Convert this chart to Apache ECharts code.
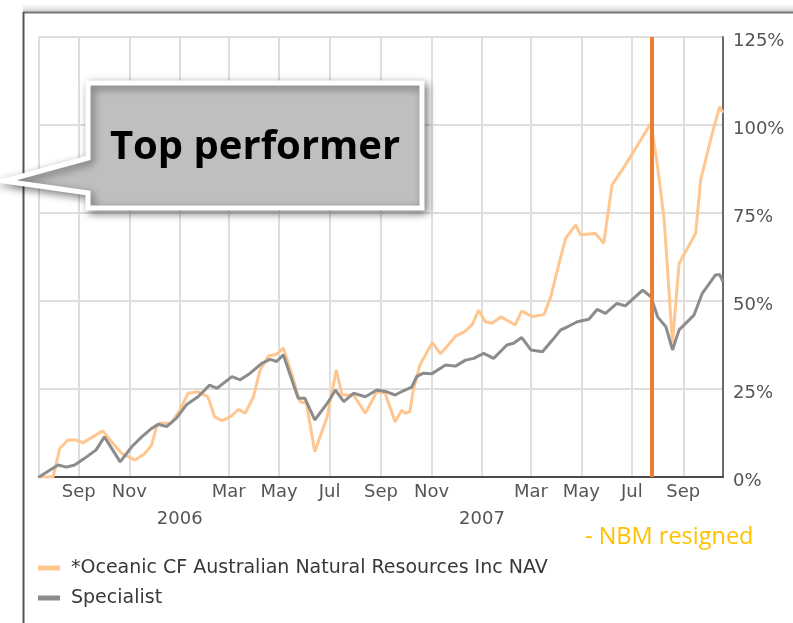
<!DOCTYPE html>
<html><head><meta charset="utf-8">
<script src="https://cdn.jsdelivr.net/npm/echarts@6/dist/echarts.min.js"></script>
<style>html,body{margin:0;padding:0;background:#fff}#c{width:793px;height:623px}</style>
</head><body><div id="c"></div>
<script>
// ---- data ----
const seriesNames = ['*Oceanic CF Australian Natural Resources Inc NAV', 'Specialist'];

const nanDates = ['2005-07-15','2005-08-01','2005-08-09','2005-08-19','2005-08-29','2005-09-06','2005-09-18','2005-09-30','2005-10-12','2005-10-23','2005-11-08','2005-11-20','2005-11-28','2005-12-04','2005-12-08','2005-12-22','2006-01-01','2006-01-11','2006-01-23','2006-02-04','2006-02-12','2006-02-21','2006-03-03','2006-03-13','2006-03-21','2006-03-31','2006-04-08','2006-04-18','2006-04-28','2006-05-06','2006-05-16','2006-05-26','2006-06-03','2006-06-13','2006-06-28','2006-07-09','2006-07-16','2006-07-30','2006-08-13','2006-08-27','2006-09-06','2006-09-18','2006-09-26','2006-09-30','2006-10-06','2006-10-10','2006-10-18','2006-11-02','2006-11-12','2006-11-30','2006-12-11','2006-12-20','2006-12-28','2007-01-05','2007-01-13','2007-01-24','2007-02-10','2007-02-18','2007-03-03','2007-03-17','2007-03-25','2007-04-04','2007-04-12','2007-04-24','2007-04-30','2007-05-18','2007-05-28','2007-06-07','2007-06-23','2007-07-24','2007-08-01','2007-08-09','2007-08-19','2007-08-27','2007-09-16','2007-09-22','2007-10-06','2007-10-15','2007-10-19'];
const nanValues = [0,0,8.1,10.5,10.5,9.7,11.4,13.1,9.6,6.7,4.8,6.7,9.1,14.3,15.3,15.3,19.0,23.8,24.2,22.8,17.1,16.0,17.1,19.2,18.1,22.8,30.4,34.4,34.9,36.6,29.5,21.4,20.9,7.2,17.1,30.4,23.3,23.3,18.1,24.2,23.8,15.7,19.0,18.1,18.6,24.7,31.8,38.2,35.0,40.0,41.3,43.2,47.4,44.1,43.7,45.5,43.2,47.2,45.5,46.2,51.2,60.7,67.8,71.6,68.8,69.2,66.4,83.0,88.6,100.5,88.2,73.0,38.0,60.7,69.2,84.4,97.6,105.2,103.5];

const specDates = ['2005-07-15','2005-08-07','2005-08-17','2005-08-27','2005-09-08','2005-09-22','2005-10-02','2005-10-21','2005-11-04','2005-11-16','2005-11-28','2005-12-06','2005-12-16','2005-12-28','2006-01-09','2006-01-23','2006-02-06','2006-02-15','2006-03-05','2006-03-15','2006-03-27','2006-04-10','2006-04-20','2006-04-28','2006-05-06','2006-05-24','2006-06-01','2006-06-13','2006-06-28','2006-07-08','2006-07-18','2006-07-30','2006-08-13','2006-08-27','2006-09-08','2006-09-18','2006-09-28','2006-10-08','2006-10-14','2006-10-22','2006-11-01','2006-11-18','2006-11-30','2006-12-12','2006-12-22','2007-01-03','2007-01-15','2007-01-23','2007-01-31','2007-02-08','2007-02-18','2007-03-01','2007-03-15','2007-03-27','2007-04-06','2007-04-12','2007-04-26','2007-05-10','2007-05-20','2007-05-30','2007-06-13','2007-06-23','2007-07-14','2007-07-24','2007-08-01','2007-08-11','2007-08-19','2007-08-27','2007-09-14','2007-09-24','2007-10-10','2007-10-15','2007-10-19'];
const specValues = [0,3.4,2.8,3.4,5.3,7.7,11.4,4.3,8.6,11.4,13.8,15.0,14.3,16.7,20.5,22.8,26.1,25.2,28.5,27.6,29.5,32.3,33.4,32.8,34.7,22.4,22.4,16.2,20.9,24.7,21.4,23.8,22.8,24.7,24.2,23.3,24.5,25.5,28.5,29.5,29.3,31.8,31.5,33.2,33.7,35.1,33.7,35.6,37.5,38.0,39.6,36.1,35.6,38.9,41.8,42.4,44.1,44.8,47.6,46.5,49.3,48.6,53.1,51.2,45.5,42.7,36.1,41.8,46.0,52.2,57.4,57.5,55.5];

const gridMonths = ['2005-09-01','2005-11-01','2006-01-01','2006-03-01','2006-05-01','2006-07-01','2006-09-01','2006-11-01','2007-01-01','2007-03-01','2007-05-01','2007-07-01','2007-09-01'];
const monthNames = ['Jan','Feb','Mar','Apr','May','Jun','Jul','Aug','Sep','Oct','Nov','Dec'];
const axisStart = '2005-07-15';
const axisEnd = '2007-10-19';
const eventDate = '2007-07-25';
const eventLabel = '- NBM resigned';
const calloutText = 'Top performer';

// ---- helpers ----
function ts(s) { const p = s.split('-').map(Number); return new Date(p[0], p[1] - 1, p[2]).getTime(); }
function pairs(d, v) { return d.map((x, i) => [ts(x), v[i]]); }

const chart = echarts.init(document.getElementById('c'), null, { renderer: 'canvas' });
chart.setOption({
  animation: false,
  backgroundColor: '#fff',
  grid: { left: 39, right: 70, top: 37, bottom: 146, containLabel: false },
  legend: {
    left: 33, top: 553, orient: 'vertical', icon: 'rect',
    itemWidth: 22, itemHeight: 5, itemGap: 10,
    textStyle: { fontFamily: 'DejaVu Sans', fontSize: 19, color: '#383838', lineHeight: 20, padding: [0, 0, 0, 6] },
    data: seriesNames
  },
  xAxis: {
    type: 'value',
    min: ts(axisStart), max: ts(axisEnd),
    axisLine: { show: true, onZero: false, lineStyle: { color: '#4a4a4a', width: 2 } },
    axisTick: { show: false, customValues: [ts(axisStart)].concat(gridMonths.map(ts)) },
    splitLine: { show: true, lineStyle: { color: '#dedede', width: 2 } },
    axisLabel: {
      customValues: gridMonths.map(ts),
      fontFamily: 'DejaVu Sans', fontSize: 18, color: '#555', lineHeight: 27, margin: 2,
      formatter: function (v) {
        const d = new Date(v);
        return d.getMonth() === 0 ? ' \n' + d.getFullYear() : monthNames[d.getMonth()];
      }
    }
  },
  yAxis: {
    type: 'value', position: 'right', min: 0, max: 125, interval: 25,
    axisLine: { show: true, lineStyle: { color: '#6a6a6a', width: 2 } },
    axisTick: { show: false },
    splitLine: { show: true, lineStyle: { color: '#dedede', width: 2 } },
    axisLabel: { formatter: '{value}%', fontFamily: 'DejaVu Sans', fontSize: 18, color: '#555', margin: 10,
      verticalAlign: 'top', lineHeight: 8 }
  },
  series: [
    {
      name: seriesNames[0], type: 'line', showSymbol: false, color: '#FFC690',
      lineStyle: { width: 3, color: '#FFC690' },
      data: pairs(nanDates, nanValues), z: 2
    },
    {
      name: seriesNames[1], type: 'line', showSymbol: false, color: '#8C8C8C',
      lineStyle: { width: 3, color: '#8C8C8C' },
      data: pairs(specDates, specValues), z: 3,
      markLine: {
        silent: true, symbol: 'none', label: { show: false },
        lineStyle: { color: '#ED7D31', width: 4, type: 'solid' },
        data: [{ xAxis: ts(eventDate) }]
      }
    }
  ],
  graphic: [
    { type: 'rect', z: 50, shape: { x: 23, y: 4, width: 770, height: 8 },
      style: { fill: new echarts.graphic.LinearGradient(0, 0, 0, 1, [{ offset: 0, color: 'rgba(0,0,0,0)' }, { offset: 1, color: 'rgba(0,0,0,0.18)' }]) } },
    { type: 'line', z: 50, shape: { x1: 23, y1: 12.5, x2: 793, y2: 12.5 }, style: { stroke: '#777', lineWidth: 2 } },
    { type: 'line', z: 50, shape: { x1: 23.5, y1: 12, x2: 23.5, y2: 623 }, style: { stroke: '#555', lineWidth: 2 } },
    { type: 'polygon', z: 100,
      shape: { points: [[88, 83], [422, 83], [422, 208], [88, 208], [88, 193], [4, 181], [88, 158]] },
      style: { fill: '#BFBFBF', stroke: '#fff', lineWidth: 5, lineJoin: 'miter',
        shadowBlur: 8, shadowOffsetX: 3, shadowOffsetY: 3, shadowColor: 'rgba(0,0,0,0.45)' } },
    { type: 'text', z: 101, x: 255, y: 148,
      style: { text: calloutText, font: 'bold 40px "Open Sans"', fill: '#000', align: 'center', verticalAlign: 'middle' } },
    { type: 'text', z: 101, x: 585, y: 537,
      style: { text: eventLabel, font: '23.5px "Open Sans"', fill: '#FFC000', align: 'left', verticalAlign: 'middle' } }
  ]
});
</script></body></html>
